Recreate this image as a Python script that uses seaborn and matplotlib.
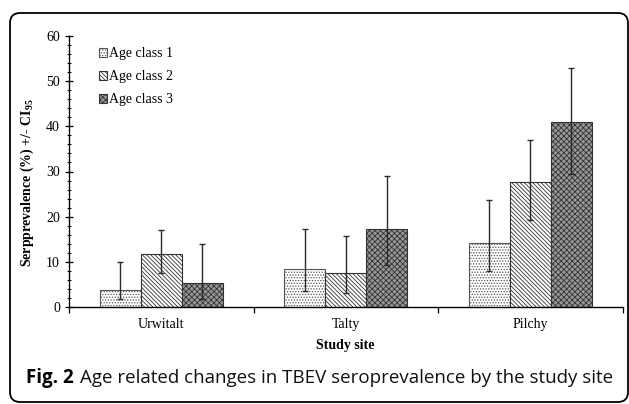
import numpy as np
import pandas as pd
import seaborn as sns
import matplotlib.pyplot as plt
from matplotlib.patches import Patch, FancyBboxPatch
from matplotlib.ticker import MultipleLocator, FixedLocator
from matplotlib.transforms import IdentityTransform

sites = ['Urwitalt', 'Talty', 'Pilchy']
ages = ['Age class 1', 'Age class 2', 'Age class 3']
age1 = [3.8, 8.4, 14.1]
age2 = [11.7, 7.5, 27.6]
age3 = [5.4, 17.2, 41.0]
low1 = [1.8, 3.5, 8.0]
low2 = [7.5, 3.0, 19.3]
low3 = [1.8, 9.2, 29.5]
high1 = [9.9, 17.2, 23.6]
high2 = [17.1, 15.8, 37.0]
high3 = [13.9, 29.1, 52.9]

values = [age1, age2, age3]
lows = [low1, low2, low3]
highs = [high1, high2, high3]

df = pd.DataFrame({
    'site': sites * 3,
    'age': [a for a in ages for _ in sites],
    'value': age1 + age2 + age3,
})

sns.set_style('ticks')
plt.rcParams['font.family'] = ['Liberation Serif', 'DejaVu Serif']
plt.rcParams['text.color'] = 'black'
plt.rcParams['axes.labelcolor'] = 'black'
plt.rcParams['mathtext.fontset'] = 'custom'
plt.rcParams['mathtext.rm'] = 'Liberation Serif:bold'
plt.rcParams['mathtext.it'] = 'Liberation Serif:italic:bold'
plt.rcParams['hatch.linewidth'] = 0.6

fig = plt.figure(figsize=(6.29, 4.04), dpi=100)
ax = fig.add_axes([69 / 629, 1 - 307 / 404, 553.5 / 629, 271 / 404])

sns.barplot(data=df, x='site', y='value', hue='age', errorbar=None,
            width=0.667, gap=0, ax=ax, legend=False)

styles = [
    dict(facecolor='white', hatch='......', edgecolor='#555555', hatchcolor='#808080'),
    dict(facecolor='white', hatch='\\\\\\\\\\\\\\\\', edgecolor='#333333', hatchcolor='#444444'),
    dict(facecolor='#979797', hatch='xxxxxx', edgecolor='#333333', hatchcolor='#7c7c7c'),
]


def style_patch(p, st):
    p.set_facecolor(st['facecolor'])
    p.set_hatch(st['hatch'])
    p.set_edgecolor(st['edgecolor'])
    if hasattr(p, 'set_hatchcolor'):
        p.set_hatchcolor(st['hatchcolor'])
    p.set_linewidth(0.8)


bar_groups = list(ax.containers)[:3]
for i, cont in enumerate(bar_groups):
    for bar in cont:
        style_patch(bar, styles[i])
    xs = [b.get_x() + b.get_width() / 2 for b in cont]
    vals = np.array(values[i])
    err = [vals - np.array(lows[i]), np.array(highs[i]) - vals]
    ax.errorbar(xs, vals, yerr=err, fmt='none', ecolor='#2a2a2a',
                elinewidth=1, capsize=2.5, capthick=1, zorder=5)

ax.set_xlim(-0.5, 2.5)
ax.set_ylim(0, 60)
ax.yaxis.set_major_locator(MultipleLocator(10))
ax.yaxis.set_minor_locator(MultipleLocator(2))
ax.tick_params(axis='y', which='major', direction='inout', length=6, width=0.9,
               labelsize=10, colors='black')
ax.tick_params(axis='y', which='minor', direction='inout', length=3, width=0.7,
               colors='black')
ax.xaxis.set_minor_locator(FixedLocator([-0.5, 0.5, 1.5, 2.5]))
ax.tick_params(axis='x', which='major', length=0, labelsize=10, pad=8,
               colors='black')
ax.tick_params(axis='x', which='minor', direction='out', length=4, width=0.9,
               colors='black')

for s in ['top', 'right']:
    ax.spines[s].set_visible(False)
for s in ['left', 'bottom']:
    ax.spines[s].set_color('black')
    ax.spines[s].set_linewidth(1)

ax.set_xlabel('Study site', fontsize=10, fontweight='bold', labelpad=6)
ax.set_ylabel(r'Serpprevalence (%) +/- CI$_{\mathit{95}}$', fontsize=10,
              fontweight='bold')
ax.yaxis.set_label_coords(-0.06, 0.46)

handles = []
for st in styles:
    h = Patch(linewidth=0.8)
    style_patch(h, st)
    handles.append(h)
ax.legend(handles, ages, loc='upper left', bbox_to_anchor=(0.036, 0.995),
          frameon=False, fontsize=10, handlelength=0.6, handleheight=0.6,
          handletextpad=0.15, labelspacing=0.72, borderpad=0.2)

# caption
cap1 = fig.text(26 / 629, 1 - 378 / 404, 'Fig. 2', fontsize=13.5, fontweight='bold',
                family='Open Sans', va='center', ha='left', color='black')
fig.canvas.draw()
bb = cap1.get_window_extent()
fig.text((bb.x1 + 6) / 629, 1 - 378 / 404,
         'Age related changes in TBEV seroprevalence by the study site',
         fontsize=13.5, family='Open Sans', va='center', ha='left', color='#111111')

frame = FancyBboxPatch((10, 2), 618, 389, boxstyle='round,pad=0,rounding_size=10',
                       transform=IdentityTransform(), facecolor='none',
                       edgecolor='black', linewidth=1.3)
fig.patches.append(frame)

fig.savefig('out.png', dpi=100)
